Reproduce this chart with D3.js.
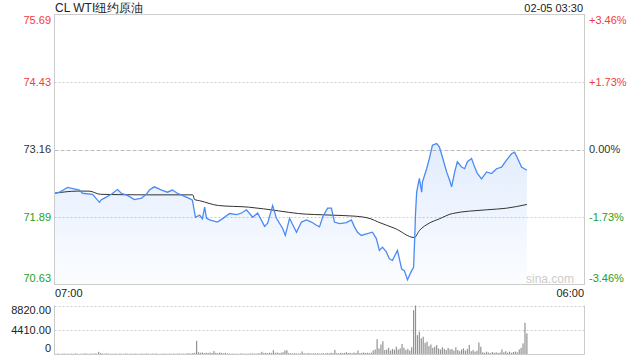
<!DOCTYPE html>
<html>
<head>
<meta charset="utf-8">
<script src="https://cdn.jsdelivr.net/npm/d3@7"></script>
<style>
  body { margin: 0; background: #fff; }
  text { font-family: "Liberation Sans", Arial, sans-serif; }
</style>
</head>
<body>
<script>
// chart data
var title = "CL WTI纽约原油";
var stamp = "02-05 03:30";
var prevClose = 73.16;
var priceTicks = [75.69, 74.43, 73.16, 71.89, 70.63];
var pctTicks = ["+3.46%", "+1.73%", "0.00%", "-1.73%", "-3.46%"];
var volTicks = [8820, 4410, 0];
var startLabel = "07:00";
var endLabel = "06:00";

var priceTimes = ["07:00","07:13","07:34","08:05","08:13","08:39","08:57","09:02","09:10","09:28",
  "09:44","09:54","10:10","10:28","10:47","11:00","11:07","11:20","11:39","11:54",
  "12:07","12:20","12:33","12:52","12:59","13:07","13:18","13:25","13:31","13:36",
  "13:44","14:04","14:17","14:36","14:54","15:07","15:20","15:36","15:49","16:07",
  "16:15","16:28","16:38","16:54","17:01","17:12","17:30","17:43","17:56","18:09",
  "18:22","18:30","18:38","18:51","19:01","19:09","19:22","19:40","19:53","20:01",
  "20:09","20:19","20:32","20:48","20:58","21:06","21:14","21:24","21:32","21:40",
  "21:53","22:04","22:11","22:19","22:30","22:35","22:38","22:40","22:43","22:50",
  "22:56","22:58","23:09","23:16","23:24","23:35","23:42","23:50","00:01","00:09",
  "00:14","00:22","00:29","00:40","00:48","00:55","01:06","01:14","01:21","01:32",
  "01:45","01:58","02:11","02:24","02:37","02:50","02:58","03:06","03:16","03:30"];
var prices = [72.34,72.36,72.45,72.40,72.34,72.32,72.17,72.22,72.25,72.32,
  72.41,72.34,72.30,72.22,72.25,72.33,72.40,72.46,72.40,72.36,
  72.40,72.34,72.30,72.24,72.21,71.89,71.93,71.86,72.08,71.87,
  71.84,71.80,71.86,71.96,71.94,71.97,72.03,71.89,71.97,71.72,
  71.78,72.11,71.87,71.68,71.55,71.87,71.61,71.80,71.84,71.80,
  71.74,71.71,71.89,72.06,72.06,71.80,71.77,71.79,71.84,71.71,
  71.61,71.55,71.58,71.61,71.49,71.27,71.33,71.24,71.11,71.08,
  71.27,70.92,70.89,70.72,70.89,70.95,71.51,71.96,72.36,72.62,
  72.36,72.55,72.80,72.99,73.24,73.27,73.21,73.02,72.74,72.58,
  72.46,72.74,72.93,72.83,72.80,72.93,72.99,72.83,72.71,72.61,
  72.74,72.71,72.80,72.83,72.96,73.08,73.11,72.99,72.83,72.77];

var avgTimes = ["07:00","08:00","08:30","09:00","11:00","13:00","13:05","13:18","14:07","15:25",
  "16:43","17:35","19:00","20:03","20:44","21:03","21:47","22:37","22:50","23:16",
  "23:42","00:16","01:45","02:37","03:30"];
var avgPrices = [72.34,72.38,72.38,72.32,72.31,72.31,72.22,72.20,72.11,72.08,
  72.01,71.96,71.93,71.91,71.86,71.80,71.68,71.51,71.64,71.78,
  71.86,71.96,72.03,72.06,72.13];

// volume, one bar per 5 minutes from 07:00
var volStep = 5;
var volumes = [
  150,120,180,90,140,200,110,160,130,170,
  120,190,140,100,160,130,210,150,120,180,
  140,200,160,480,250,180,140,200,160,120,
  150,130,180,110,170,140,120,190,150,130,
  160,120,180,140,110,170,150,130,200,140,
  120,160,140,180,130,110,150,170,140,120,
  180,140,160,120,150,190,130,170,140,200,
  220,180,260,300,2460,420,300,380,250,320,
  280,350,260,600,300,240,360,280,220,300,
  200,180,150,170,140,160,120,190,150,130,
  160,140,180,200,170,150,220,190,480,260,
  300,220,340,280,780,300,360,250,320,400,
  720,780,260,220,180,240,200,170,210,540,
  220,180,260,200,170,240,190,220,160,200,
  230,180,260,210,300,250,840,260,220,300,
  240,280,420,260,300,220,340,280,720,240,
  300,360,280,320,250,340,720,900,2760,1100,
  1800,2400,800,900,1200,700,1000,850,1400,900,
  1100,1900,1200,800,1000,700,1300,7980,8820,3480,
  4080,2900,3200,2100,2300,1500,1800,1200,1400,1700,
  1100,900,1300,1000,800,1200,900,1000,700,1300,
  800,600,900,1100,700,1000,1700,600,800,500,
  700,2160,1400,400,300,500,350,250,450,300,
  400,280,350,900,400,600,350,500,300,450,
  550,400,900,1200,2000,5700,3800];

function init()
{
    var w = 640, h = 360;
    var left = 54.5, right = 584.5;
    var top = 14.5, bottom = 284.5;
    var vTop = 305.5, vBottom = 354.5;

    var base = new Date(2025, 1, 4, 0, 0);
    function toTime(s) {
        var p = s.split(":"), hh = +p[0], mm = +p[1];
        var d = new Date(base.getTime());
        if (hh < 7) d.setDate(d.getDate() + 1);
        d.setHours(hh, mm);
        return d;
    }

    var priceData = priceTimes.map(function(t, i) { return {t: toTime(t), v: prices[i]}; });
    var avgData = avgTimes.map(function(t, i) { return {t: toTime(t), v: avgPrices[i]}; });
    var t0 = toTime(startLabel);
    var volData = volumes.map(function(v, i) { return {t: new Date(t0.getTime() + i * volStep * 60000), v: v}; });

    var svg = d3.select("body").append("svg")
                .attr("width", w)
                .attr("height", h);

    var x = d3.scaleTime()
              .domain([t0, toTime(endLabel)])
              .range([left, right]);
    var y = d3.scaleLinear()
              .domain([priceTicks[4], priceTicks[0]])
              .range([bottom, top]);
    var yv = d3.scaleLinear()
               .domain([0, volTicks[0]])
               .range([vBottom, vTop]);

    var defs = svg.append("defs");
    var grad = defs.append("linearGradient")
                   .attr("id", "fillGrad")
                   .attr("x1", 0).attr("y1", 0).attr("x2", 0).attr("y2", 1);
    grad.append("stop").attr("offset", "0%").attr("stop-color", "#4a8af4").attr("stop-opacity", 0.16);
    grad.append("stop").attr("offset", "100%").attr("stop-color", "#4a8af4").attr("stop-opacity", 0.02);

    // price grid
    svg.selectAll("line.grid")
       .data(priceTicks.slice(1, 4))
       .enter()
       .append("line")
       .attr("class", "grid")
       .attr("x1", left).attr("x2", right)
       .attr("y1", function(d) { return Math.round(y(d)) + 0.5; })
       .attr("y2", function(d) { return Math.round(y(d)) + 0.5; })
       .style("stroke", function(d) { return d == prevClose ? "#bbb" : "#ccc"; })
       .style("stroke-dasharray", function(d) { return d == prevClose ? "4,2" : "2,2"; });

    // fill + lines
    var area = d3.area()
                 .x(function(d) { return x(d.t); })
                 .y0(bottom)
                 .y1(function(d) { return y(d.v); });
    svg.append("path")
       .datum(priceData)
       .attr("d", area)
       .style("fill", "url(#fillGrad)");

    svg.append("text")
       .attr("x", 574).attr("y", 283)
       .attr("text-anchor", "end")
       .style("font-size", "12px")
       .style("fill", "#ccc")
       .text("sina.com");

    var avgLine = d3.line()
                    .curve(d3.curveMonotoneX)
                    .x(function(d) { return x(d.t); })
                    .y(function(d) { return y(d.v); });
    svg.append("path")
       .datum(avgData)
       .attr("d", avgLine)
       .style("fill", "none")
       .style("stroke", "#333")
       .style("stroke-width", 1);

    var line = d3.line()
                 .x(function(d) { return x(d.t); })
                 .y(function(d) { return y(d.v); });
    svg.append("path")
       .datum(priceData)
       .attr("d", line)
       .style("fill", "none")
       .style("stroke", "#4a8af4")
       .style("stroke-width", 1.3);

    // frame
    svg.append("rect")
       .attr("x", left).attr("y", top)
       .attr("width", right - left).attr("height", bottom - top)
       .style("fill", "none")
       .style("stroke", "#ccc");

    // labels
    function tickColor(i) { return i < 2 ? "#f23c3c" : (i == 2 ? "#333" : "#25a025"); }
    function tickShift(i) { return i == 0 ? 6 : (i == 4 ? -6 : 0); }

    svg.selectAll("text.pl")
       .data(priceTicks)
       .enter()
       .append("text")
       .attr("class", "pl")
       .attr("x", 51)
       .attr("y", function(d, i) { return y(d) + tickShift(i); })
       .attr("dy", "0.35em")
       .attr("text-anchor", "end")
       .style("font-size", "11px")
       .style("fill", function(d, i) { return tickColor(i); })
       .text(function(d) { return d.toFixed(2); });

    svg.selectAll("text.pr")
       .data(pctTicks)
       .enter()
       .append("text")
       .attr("class", "pr")
       .attr("x", 589)
       .attr("y", function(d, i) { return y(priceTicks[i]) + tickShift(i); })
       .attr("dy", "0.35em")
       .style("font-size", "11px")
       .style("fill", function(d, i) { return tickColor(i); })
       .text(function(d) { return d; });

    svg.append("text")
       .attr("x", 55).attr("y", 12)
       .style("font-size", "12px")
       .style("fill", "#222")
       .text(title);
    svg.append("text")
       .attr("x", 583).attr("y", 12)
       .attr("text-anchor", "end")
       .style("font-size", "11px")
       .style("fill", "#222")
       .text(stamp);

    svg.append("text")
       .attr("x", 55).attr("y", 297)
       .style("font-size", "11px")
       .style("fill", "#222")
       .text(startLabel);
    svg.append("text")
       .attr("x", 584).attr("y", 297)
       .attr("text-anchor", "end")
       .style("font-size", "11px")
       .style("fill", "#222")
       .text(endLabel);

    // volume panel
    svg.selectAll("line.vgrid")
       .data(volTicks.slice(0, 2))
       .enter()
       .append("line")
       .attr("class", "vgrid")
       .attr("x1", left).attr("x2", right)
       .attr("y1", function(d) { return Math.round(yv(d)) + 0.5; })
       .attr("y2", function(d) { return Math.round(yv(d)) + 0.5; })
       .style("stroke", "#ccc")
       .style("stroke-dasharray", "2,2");

    svg.selectAll("rect.vol")
       .data(volData)
       .enter()
       .append("rect")
       .attr("class", "vol")
       .attr("x", function(d) { return x(d.t) - 0.6; })
       .attr("y", function(d) { return yv(d.v); })
       .attr("width", 1.2)
       .attr("height", function(d) { return vBottom - yv(d.v); })
       .style("fill", "#777")
       .style("opacity", 0.8);

    svg.append("path")
       .attr("d", "M" + left + "," + vTop + "V" + vBottom + "H" + right + "V" + vTop)
       .style("fill", "none")
       .style("stroke", "#ccc");

    svg.selectAll("text.vl")
       .data(volTicks)
       .enter()
       .append("text")
       .attr("class", "vl")
       .attr("x", 51)
       .attr("y", function(d, i) { return yv(d) + (i == 0 ? 5 : (i == 2 ? -6 : 0)); })
       .attr("dy", "0.35em")
       .attr("text-anchor", "end")
       .style("font-size", "11px")
       .style("fill", "#222")
       .text(function(d) { return d == 0 ? "0" : d.toFixed(2); });
}
window.onload = init;
</script>
</body>
</html>
